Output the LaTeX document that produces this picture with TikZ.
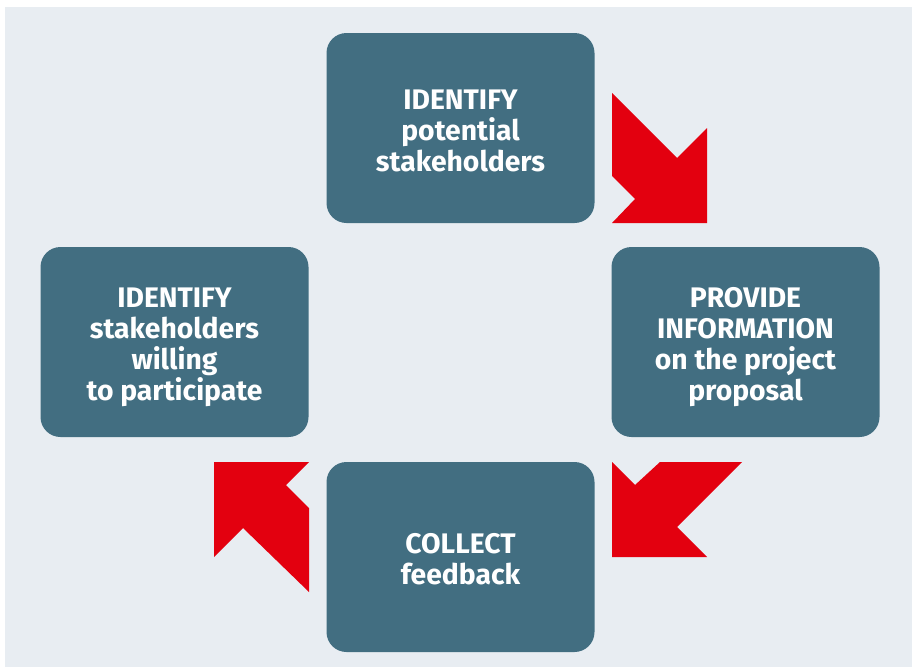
\documentclass[tikz,border=0pt]{standalone}
\usepackage{fontspec}
\setmainfont{Fira Sans}
\definecolor{panel}{RGB}{232,237,242}
\definecolor{stepfill}{RGB}{66,110,129}
\definecolor{flow}{RGB}{227,0,15}
\begin{document}
\begin{tikzpicture}[x=1pt,y=-1pt,
  stepbox/.style={fill=stepfill, rounded corners=20pt, minimum width=268pt,
    minimum height=190pt, inner sep=0pt},
  steptext/.style={inner sep=0pt, text=white, align=center,
    font=\fontsize{28.3}{31}\selectfont\bfseries},
  flowarrow/.style={fill=flow}]
  \useasboundingbox (0,0) rectangle (912,667);
  \fill[panel] (5,7) rectangle (912,667);

  % process steps
  \node[stepbox] (identify) at (460.5,128) {};
  \node[stepbox] (provide)  at (745.5,342) {};
  \node[stepbox] (collect)  at (460.5,557) {};
  \node[stepbox] (willing)  at (174.5,342) {};

  % step captions, set a little below each box centre
  \node[steptext] (identify-t) at ([yshift=-2.5pt]identify.center) {IDENTIFY\\potential\\stakeholders};
  \node[steptext] (provide-t)  at ([yshift=-5pt]provide.center)  {PROVIDE\\INFORMATION\\on the project\\proposal};
  \node[steptext] (collect-t)  at ([yshift=-2.5pt]collect.center)  {COLLECT\\feedback};
  \node[steptext] (willing-t)  at ([yshift=-5pt]willing.center)  {IDENTIFY\\stakeholders\\willing\\to participate};

  % bent arrows between the steps
  \fill[flowarrow] (612,93) -- (677,158) -- (707,128) -- (707,223) -- (612,223)
    -- (635,199) -- (612,176) -- cycle;
  \fill[flowarrow] (612,462) -- (635,485) -- (660,462) -- (742,462) -- (677,527)
    -- (707,557) -- (612,557) -- cycle;
  \fill[flowarrow] (214,462) -- (309,462) -- (286,485) -- (309,508) -- (309,592)
    -- (243,528) -- (214,557) -- cycle;
\end{tikzpicture}
\end{document}
